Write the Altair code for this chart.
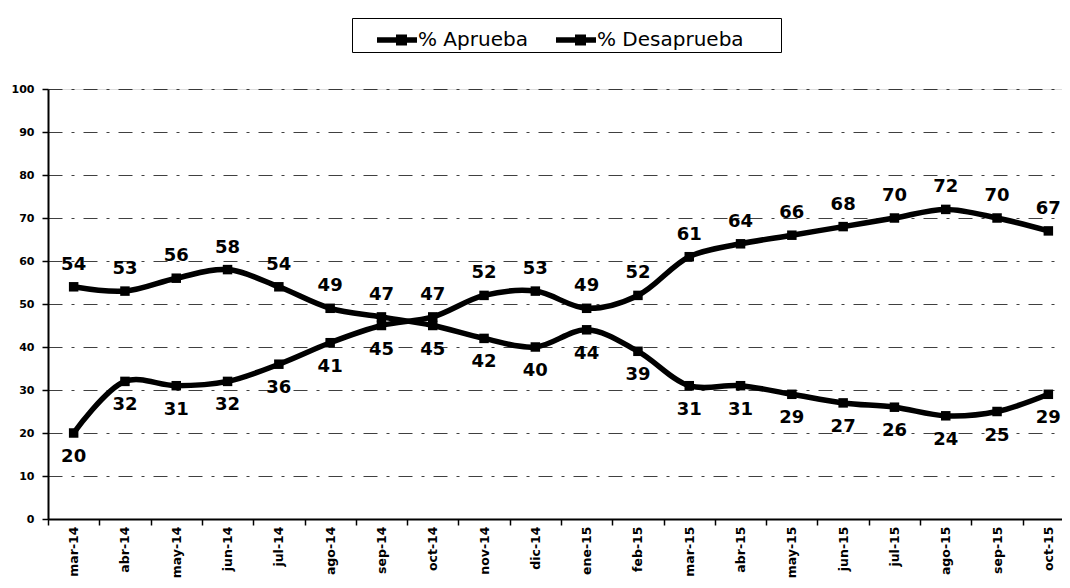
import altair as alt
import pandas as pd

months = ["mar-14", "abr-14", "may-14", "jun-14", "jul-14", "ago-14", "sep-14",
          "oct-14", "nov-14", "dic-14", "ene-15", "feb-15", "mar-15", "abr-15",
          "may-15", "jun-15", "jul-15", "ago-15", "sep-15", "oct-15"]
aprueba = [54, 53, 56, 58, 54, 49, 47, 45, 42, 40, 44, 39, 31, 31, 29, 27, 26, 24, 25, 29]
desaprueba = [20, 32, 31, 32, 36, 41, 45, 47, 52, 53, 49, 52, 61, 64, 66, 68, 70, 72, 70, 67]
series_names = ["% Aprueba", "% Desaprueba"]
y_ticks = [0, 10, 20, 30, 40, 50, 60, 70, 80, 90, 100]

rows = []
for i, m in enumerate(months):
    for name, vals, other in [(series_names[0], aprueba, desaprueba),
                              (series_names[1], desaprueba, aprueba)]:
        rows.append({"mes": m, "serie": name, "valor": vals[i],
                     "pos": "arriba" if vals[i] >= other[i] else "abajo"})
df = pd.DataFrame(rows)

FONT = "DejaVu Sans"

x_enc = alt.X(
    "mes:N", sort=months,
    scale=alt.Scale(type="band", range=[0, 1026], paddingInner=0, paddingOuter=0),
    axis=alt.Axis(title=None, labelAngle=-90, tickBand="extent", grid=False,
                  labelFont=FONT, labelFontSize=12.5, labelFontWeight="bold",
                  labelColor="black",
                  tickColor="black", tickSize=6, tickWidth=1.5,
                  domainColor="black", domainWidth=2, labelPadding=1),
)
y_enc = alt.Y(
    "valor:Q", scale=alt.Scale(domain=[0, 100], nice=False, zero=True),
    axis=alt.Axis(title=None, values=y_ticks, tickSize=6, tickColor="black", tickWidth=1.5,
                  labelPadding=8, labelFont=FONT, labelFontWeight="bold",
                  labelFontSize=11, labelColor="black",
                  domainColor="black", domainWidth=2,
                  grid=True, gridColor="black", gridOpacity=0.75,
                  gridDash=[14, 9, 3, 9], gridWidth=1.2),
)

base = alt.Chart(df)

lines = base.mark_line(interpolate="catmull-rom", strokeWidth=5.5, color="black").encode(
    x=x_enc, y=y_enc, detail="serie:N"
)

sym_path = ("M-1,-0.14H1V0.14H-1Z "
            "M-0.05,-0.28H0.5V0.28H-0.05Z")

points = base.mark_point(shape="square", filled=True, size=90, opacity=1).encode(
    x=x_enc, y=y_enc,
    color=alt.Color(
        "serie:N",
        scale=alt.Scale(domain=series_names, range=["black", "black"]),
        legend=alt.Legend(
            orient="none", legendX=304, legendY=-71, direction="horizontal",
            title=None, symbolType=sym_path, symbolSize=1600,
            symbolStrokeWidth=0, symbolOffset=23,
            labelFont=FONT, labelFontSize=20, labelColor="black",
            labelOffset=1, columnPadding=5, padding=2, labelLimit=400,
            labelExpr="datum.label == '% Desaprueba' ? datum.label + '\u2003\u2002\u2005\u200b' : datum.label",
            strokeColor="black",
        ),
    ),
)

text_up = base.transform_filter(alt.datum.pos == "arriba").mark_text(
    font=FONT, fontWeight="bold", fontSize=18, color="black", dy=-22, baseline="middle"
).encode(x=x_enc, y=y_enc, text="valor:Q")

text_down = base.transform_filter(alt.datum.pos == "abajo").mark_text(
    font=FONT, fontWeight="bold", fontSize=18, color="black", dy=24, baseline="middle"
).encode(x=x_enc, y=y_enc, text="valor:Q")

chart = alt.layer(lines, points, text_up, text_down).properties(
    width=1014, height=430,
    autosize=alt.AutoSizeParams(type="none"),
    padding={"left": 40, "top": 81, "right": 0, "bottom": 61},
).configure_view(stroke=None).configure(background="white")

chart.save("out.html", embed_options={"renderer": "svg", "actions": False})
